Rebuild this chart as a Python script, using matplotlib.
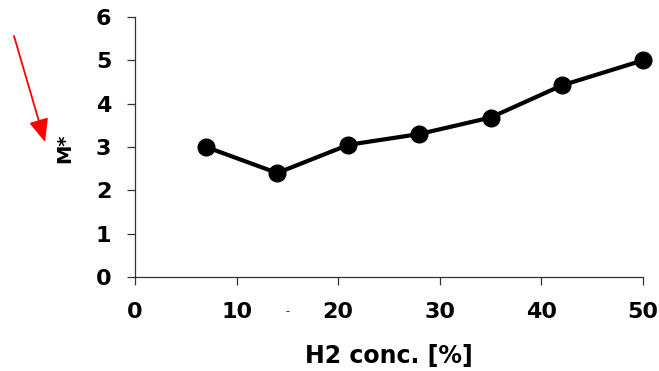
import matplotlib
matplotlib.use("Agg")
import matplotlib.pyplot as plt

h2_conc = [7, 14, 21, 28, 35, 42, 50]
m_star = [3.0, 2.4, 3.05, 3.3, 3.68, 4.42, 5.0]
x_ticks = [0, 10, 20, 30, 40, 50]
y_ticks = [0, 1, 2, 3, 4, 5, 6]

plt.rcParams['font.family'] = ['DejaVu Sans']

W, H = 659, 371
fig = plt.figure(figsize=(W / 100, H / 100), dpi=100)
ax = fig.add_axes([135 / W, 1 - 277 / H, (643 - 135) / W, (277 - 17) / H])

ax.plot(h2_conc, m_star, color='black', lw=3, marker='o', ms=12,
        markerfacecolor='black', markeredgecolor='black', clip_on=False, zorder=3)

ax.set_xlim(0, 50)
ax.set_ylim(0, 6)
ax.set_xticks(x_ticks)
ax.set_yticks(y_ticks)
ax.set_xticklabels([str(t) for t in x_ticks], fontsize=16, fontweight='bold')
ax.set_yticklabels([str(t) for t in y_ticks], fontsize=16, fontweight='bold')

for side in ['top', 'right']:
    ax.spines[side].set_visible(False)
for side in ['left', 'bottom']:
    ax.spines[side].set_linewidth(0.9)
    ax.spines[side].set_color('#333333')

ax.tick_params(axis='x', direction='out', length=6, width=0.9, color='#333333', pad=12)
ax.tick_params(axis='y', direction='out', length=6, width=0.9, color='#333333', pad=11)

ax.set_xlabel('H2 conc. [%]', fontsize=17, fontweight='bold', labelpad=16)

fig.text(65 / W, 1 - 148 / H, 'M*', rotation=90, fontsize=14, fontweight='bold',
         ha='center', va='center')

# stray scan mark
fig.text(287 / W, 1 - 311 / H, '-', fontsize=8, ha='center', va='center')

ax.annotate('', xy=(45, H - 142), xycoords='figure pixels',
            xytext=(14, H - 36), textcoords='figure pixels',
            arrowprops=dict(arrowstyle='-|>,head_length=1.4,head_width=0.6',
                            color='red', lw=1.3, shrinkA=0, shrinkB=0))

fig.savefig('out.png', dpi=100)
